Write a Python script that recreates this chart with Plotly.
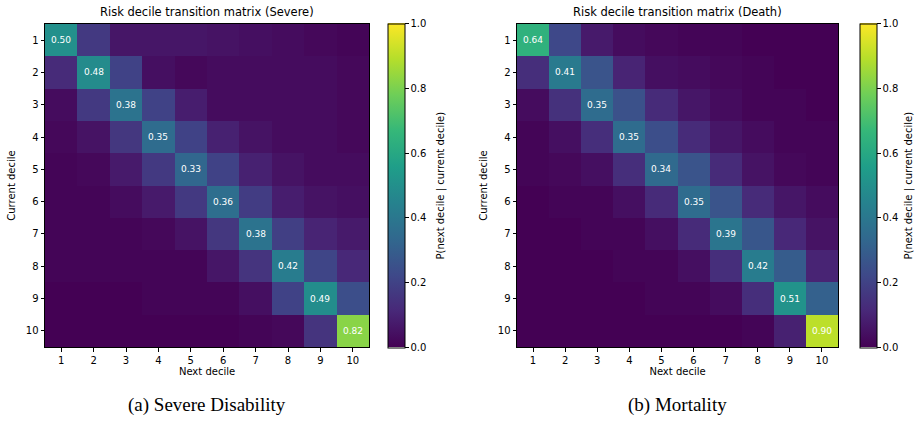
import plotly.graph_objects as go

deciles = [str(i) for i in range(1, 11)]

severe = [
    [0.50, 0.17, 0.06, 0.06, 0.06, 0.05, 0.04, 0.03, 0.02, 0.01],
    [0.12, 0.48, 0.20, 0.04, 0.02, 0.03, 0.03, 0.03, 0.03, 0.02],
    [0.03, 0.17, 0.38, 0.20, 0.08, 0.03, 0.03, 0.03, 0.03, 0.02],
    [0.02, 0.05, 0.16, 0.35, 0.20, 0.09, 0.05, 0.03, 0.03, 0.02],
    [0.01, 0.02, 0.07, 0.17, 0.33, 0.20, 0.09, 0.05, 0.03, 0.03],
    [0.01, 0.01, 0.03, 0.07, 0.17, 0.36, 0.18, 0.08, 0.05, 0.04],
    [0.01, 0.01, 0.01, 0.02, 0.05, 0.16, 0.38, 0.19, 0.10, 0.07],
    [0.01, 0.01, 0.01, 0.01, 0.01, 0.06, 0.15, 0.42, 0.21, 0.11],
    [0.00, 0.00, 0.00, 0.01, 0.01, 0.01, 0.04, 0.20, 0.49, 0.24],
    [0.00, 0.00, 0.00, 0.00, 0.00, 0.00, 0.01, 0.02, 0.15, 0.82],
]

death = [
    [0.64, 0.22, 0.07, 0.03, 0.02, 0.01, 0.01, 0.00, 0.00, 0.00],
    [0.13, 0.41, 0.26, 0.10, 0.04, 0.03, 0.02, 0.01, 0.00, 0.00],
    [0.03, 0.14, 0.35, 0.25, 0.12, 0.06, 0.03, 0.01, 0.01, 0.00],
    [0.01, 0.04, 0.13, 0.35, 0.24, 0.12, 0.06, 0.03, 0.01, 0.01],
    [0.01, 0.02, 0.04, 0.13, 0.34, 0.26, 0.12, 0.05, 0.02, 0.01],
    [0.00, 0.01, 0.01, 0.04, 0.12, 0.35, 0.26, 0.12, 0.06, 0.03],
    [0.00, 0.00, 0.01, 0.01, 0.04, 0.12, 0.39, 0.27, 0.11, 0.05],
    [0.00, 0.00, 0.00, 0.01, 0.01, 0.04, 0.13, 0.42, 0.29, 0.10],
    [0.00, 0.00, 0.00, 0.00, 0.01, 0.01, 0.03, 0.13, 0.51, 0.31],
    [0.00, 0.00, 0.00, 0.00, 0.00, 0.00, 0.00, 0.01, 0.09, 0.90],
]

titles = ["Risk decile transition matrix (Severe)", "Risk decile transition matrix (Death)"]
captions = ["(a) Severe Disability", "(b) Mortality"]
cbar_title = "P(next decile | current decile)"
cbar_ticks = [0.0, 0.2, 0.4, 0.6, 0.8, 1.0]

W, H = 915, 422
FONT = "DejaVu Sans"


def diag_text(m):
    return [[f"{m[i][j]:.2f}" if i == j else "" for j in range(len(m))] for i in range(len(m))]


fig = go.Figure()
panels = [
    dict(z=severe, xa="x", ya="y", ca="coloraxis", x0=45, x1=369, cb=388, cbt=441),
    dict(z=death, xa="x2", ya="y2", ca="coloraxis2", x0=517, x1=838, cb=860, cbt=909),
]
top, bottom = 24, 347

for p in panels:
    fig.add_trace(go.Heatmap(
        z=p["z"], x=deciles, y=deciles, xaxis=p["xa"], yaxis=p["ya"], coloraxis=p["ca"],
        text=diag_text(p["z"]), texttemplate="%{text}",
        textfont=dict(color="white", size=9, family=FONT),
        xgap=0, ygap=0, hoverinfo="z",
    ))

axis_common = dict(
    showline=True, linecolor="black", linewidth=1, mirror=True,
    ticks="outside", ticklen=3.5, tickwidth=1, tickcolor="black",
    tickfont=dict(size=10, family=FONT, color="black"),
    showgrid=False, zeroline=False, type="category",
)

layout = dict(
    width=W, height=H, margin=dict(l=0, r=0, t=0, b=0),
    paper_bgcolor="white", plot_bgcolor="white",
    font=dict(family=FONT, color="black"),
    annotations=[],
)

for k, p in enumerate(panels):
    sfx = "" if k == 0 else "2"
    layout["xaxis" + sfx] = dict(
        axis_common, domain=[p["x0"] / W, p["x1"] / W], anchor="y" + sfx,
        title=dict(text="Next decile", font=dict(size=10, family=FONT), standoff=3),
    )
    layout["yaxis" + sfx] = dict(
        axis_common, domain=[1 - bottom / H, 1 - top / H], anchor="x" + sfx,
        autorange="reversed",
        title=dict(text="Current decile", font=dict(size=10, family=FONT), standoff=8),
    )
    layout["coloraxis" + sfx] = dict(
        colorscale="Viridis", cmin=0, cmax=1,
        colorbar=dict(
            x=p["cb"] / W, xanchor="left", xref="paper",
            y=1 - (top + bottom) / 2 / H, yanchor="middle",
            len=bottom - top + 1, lenmode="pixels",
            thickness=17, thicknessmode="pixels",
            outlinewidth=1, outlinecolor="black",
            ticks="outside", ticklen=3.5, tickcolor="black",
            tickvals=cbar_ticks, ticktext=[f"{t:.1f}" for t in cbar_ticks],
            tickfont=dict(size=10, family=FONT),
            xpad=0, ypad=0,
        ),
    )
    cx = (p["x0"] + p["x1"]) / 2 / W
    layout["annotations"].append(dict(
        text=titles[k], x=cx, y=1 - 12 / H, xref="paper", yref="paper",
        showarrow=False, font=dict(size=11.5, family=FONT), xanchor="center", yanchor="middle",
    ))
    layout["annotations"].append(dict(
        text=cbar_title, x=p["cbt"] / W, y=1 - (top + bottom) / 2 / H, xref="paper", yref="paper",
        showarrow=False, textangle=-90, font=dict(size=10, family=FONT),
        xanchor="center", yanchor="middle",
    ))
    layout["annotations"].append(dict(
        text=captions[k], x=cx, y=1 - 405 / H, xref="paper", yref="paper",
        showarrow=False, font=dict(size=19, family="Liberation Serif"), xanchor="center", yanchor="middle",
    ))

fig.update_layout(**layout)
fig.write_html("out.html")
